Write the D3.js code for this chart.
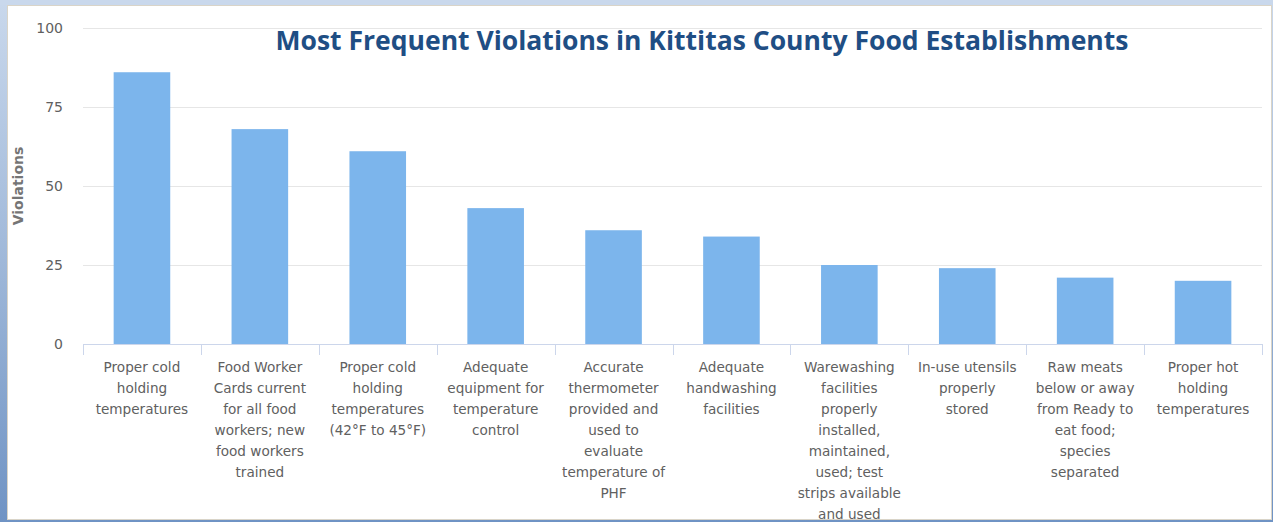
<!DOCTYPE html>
<html>
<head>
<meta charset="utf-8">
<script src="https://d3js.org/d3.v7.min.js"></script>
<style>
html, body { margin: 0; padding: 0; }
body { width: 1273px; height: 522px; overflow: hidden; }
.axis text { font-family: "DejaVu Sans", Verdana, sans-serif; fill: #606060; }
</style>
</head>
<body>
<div id="container"></div>
<script>

var categories = [
  "Proper cold holding temperatures",
  "Food Worker Cards current for all food workers; new food workers trained",
  "Proper cold holding temperatures (42°F to 45°F)",
  "Adequate equipment for temperature control",
  "Accurate thermometer provided and used to evaluate temperature of PHF",
  "Adequate handwashing facilities",
  "Warewashing facilities properly installed, maintained, used; test strips available and used",
  "In-use utensils properly stored",
  "Raw meats below or away from Ready to eat food; species separated",
  "Proper hot holding temperatures"
];

// label lines as wrapped in the picture
var tickLabels = [
  ["Proper cold", "holding", "temperatures"],
  ["Food Worker", "Cards current", "for all food", "workers; new", "food workers", "trained"],
  ["Proper cold", "holding", "temperatures", "(42°F to 45°F)"],
  ["Adequate", "equipment for", "temperature", "control"],
  ["Accurate", "thermometer", "provided and", "used to", "evaluate", "temperature of", "PHF"],
  ["Adequate", "handwashing", "facilities"],
  ["Warewashing", "facilities", "properly", "installed,", "maintained,", "used; test", "strips available", "and used"],
  ["In-use utensils", "properly", "stored"],
  ["Raw meats", "below or away", "from Ready to", "eat food;", "species", "separated"],
  ["Proper hot", "holding", "temperatures"]
];

var violations = [86, 68, 61, 43, 36, 34, 25, 24, 21, 20];

var yTicks = [0, 25, 50, 75, 100];

var W = 1273, H = 522;

var svg = d3.select("#container").append("svg")
    .attr("width", W)
    .attr("height", H);

// backdrop behind the chart panel
var defs = svg.append("defs");
var grad = defs.append("linearGradient").attr("id", "bg")
    .attr("x1", 0).attr("y1", 0).attr("x2", 0).attr("y2", 1);
grad.append("stop").attr("offset", "0%").attr("stop-color", "#c9d8ec");
grad.append("stop").attr("offset", "50%").attr("stop-color", "#9fb8d9");
grad.append("stop").attr("offset", "100%").attr("stop-color", "#6f93c4");

svg.append("rect").attr("width", W).attr("height", H).attr("fill", "url(#bg)");
svg.append("rect").attr("x", 0).attr("y", 0).attr("width", W).attr("height", 5).attr("fill", "#c9d8ec");

svg.append("rect")
    .attr("x", 7.5).attr("y", 5.5)
    .attr("width", 1264).attr("height", 514)
    .attr("fill", "#ffffff")
    .attr("stroke", "#d9d4c8");

var plot = {left: 83, right: 1262, top: 28, bottom: 344};

var x = d3.scaleBand()
    .domain(categories)
    .range([plot.left, plot.right])
    .padding(0);

var y = d3.scaleLinear()
    .domain([0, 100])
    .range([plot.bottom, plot.top]);

// gridlines
svg.append("g")
  .selectAll("line")
  .data(yTicks.filter(function(d) { return d > 0; }))
  .enter().append("line")
    .attr("x1", plot.left)
    .attr("x2", plot.right)
    .attr("y1", function(d) { return Math.round(y(d)) + 0.5; })
    .attr("y2", function(d) { return Math.round(y(d)) + 0.5; })
    .attr("stroke", "#e6e6e6")
    .attr("stroke-width", 1);

// y axis labels
var yAxis = svg.append("g").attr("class", "axis");
yAxis.selectAll("text")
  .data(yTicks)
  .enter().append("text")
    .attr("x", 63)
    .attr("y", function(d) { return y(d) + 5; })
    .attr("text-anchor", "end")
    .style("font-size", "14px")
    .text(function(d) { return d; });

yAxis.append("text")
    .attr("transform", "translate(23," + ((plot.top + plot.bottom) / 2) + ") rotate(-90)")
    .attr("text-anchor", "middle")
    .style("font-size", "14px")
    .style("font-weight", "bold")
    .style("fill", "#757575")
    .text("Violations");

// bars
var barW = x.bandwidth() * 0.48;
svg.append("g")
  .selectAll("rect")
  .data(categories)
  .enter().append("rect")
    .attr("x", function(d) { return x(d) + (x.bandwidth() - barW) / 2; })
    .attr("y", function(d, i) { return y(violations[i]); })
    .attr("width", barW)
    .attr("height", function(d, i) { return plot.bottom - y(violations[i]); })
    .attr("fill", "#7cb5ec");

// x axis line and ticks
var xAxis = svg.append("g").attr("class", "axis");
xAxis.append("line")
    .attr("x1", plot.left).attr("x2", plot.right)
    .attr("y1", plot.bottom + 0.5).attr("y2", plot.bottom + 0.5)
    .attr("stroke", "#ccd6eb");

var tickPos = categories.map(function(d) { return x(d); }).concat([plot.right]);
xAxis.selectAll("line.tick")
  .data(tickPos)
  .enter().append("line")
    .attr("class", "tick")
    .attr("x1", function(d) { return Math.round(d) + 0.5; })
    .attr("x2", function(d) { return Math.round(d) + 0.5; })
    .attr("y1", plot.bottom)
    .attr("y2", plot.bottom + 11)
    .attr("stroke", "#ccd6eb");

xAxis.selectAll("text.cat")
  .data(categories)
  .enter().append("text")
    .attr("class", "cat")
    .attr("text-anchor", "middle")
    .style("font-size", "13.6px")
    .each(function(d, i) {
      var t = d3.select(this);
      tickLabels[i].forEach(function(line, k) {
        t.append("tspan")
          .attr("x", x(d) + x.bandwidth() / 2)
          .attr("y", 372 + k * 21)
          .text(line);
      });
    });

// title
svg.append("text")
    .attr("x", 702)
    .attr("y", 50)
    .attr("text-anchor", "middle")
    .attr("textLength", 853)
    .attr("lengthAdjust", "spacingAndGlyphs")
    .style("font-family", "'Open Sans', sans-serif")
    .style("font-weight", "bold")
    .style("font-size", "27px")
    .style("fill", "#1f4e84")
    .text("Most Frequent Violations in Kittitas County Food Establishments");

</script>
</body>
</html>
